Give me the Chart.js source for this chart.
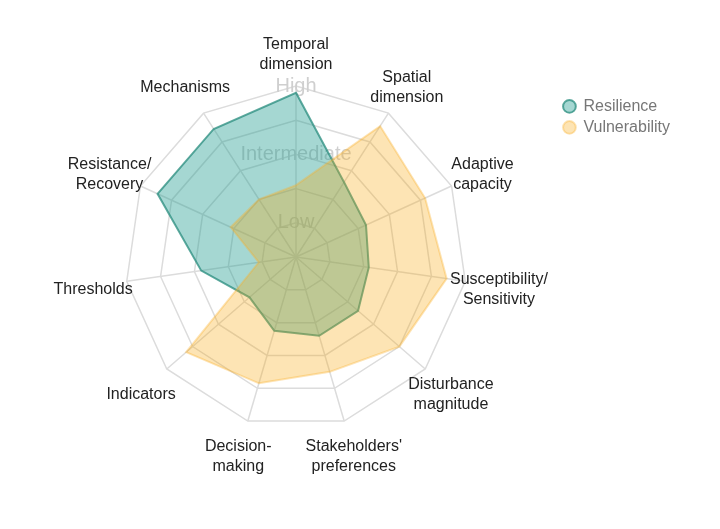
<!DOCTYPE html>
<html>
<head>
<meta charset="utf-8">
<script src="https://cdn.jsdelivr.net/npm/chart.js@4/dist/chart.umd.min.js"></script>
<style>
  html, body { margin: 0; padding: 0; background: #fff; }
  #wrap { width: 720px; height: 529px; }
</style>
</head>
<body>
<div id="wrap"><canvas id="radarChart"></canvas></div>
<script>
// axes, clockwise from the top
const categories = [
  ['Temporal', 'dimension'],
  ['Spatial', 'dimension'],
  ['Adaptive', 'capacity'],
  ['Susceptibility/', 'Sensitivity'],
  ['Disturbance', 'magnitude'],
  ["Stakeholders'", 'preferences'],
  ['Decision-', 'making'],
  'Indicators',
  'Thresholds',
  ['Resistance/', 'Recovery'],
  'Mechanisms'
];

const resilience    = [4.8, 2.6, 2.25, 2.15, 2.4, 2.4, 2.25, 1.8, 2.8, 4.45, 4.45];
const vulnerability = [2.1, 4.55, 4.15, 4.45, 4.0, 3.5, 3.85, 4.25, 1.1, 2.1, 2.0];

// ring ticks 0..5, only three named
const tickLabels = { 1: 'Low', 3: 'Intermediate', 5: 'High' };

const FONT = 'Liberation Sans, Arial, sans-serif';

// axis names centred a fixed distance beyond the outer ring
const centredPointLabels = {
  id: 'centredPointLabels',
  afterDraw(chart) {
    const scale = chart.scales.r;
    const c = chart.ctx;
    c.save();
    c.font = '16px ' + FONT;
    c.fillStyle = '#222';
    c.textAlign = 'center';
    c.textBaseline = 'middle';
    const lineH = 20;
    categories.forEach((lab, i) => {
      const lines = Array.isArray(lab) ? lab : [lab];
      const p = scale.getPointPosition(i, scale.drawingArea + 34);
      const y0 = p.y + 3 - (lines.length - 1) * lineH / 2;
      lines.forEach((t, j) => c.fillText(t, p.x, y0 + j * lineH));
    });
    c.restore();
  }
};

const ctx = document.getElementById('radarChart').getContext('2d');
const radarChart = new Chart(ctx, {
  type: 'radar',
  data: {
    labels: categories,
    datasets: [
      {
        label: 'Vulnerability',
        data: vulnerability,
        backgroundColor: 'rgba(248,165,5,0.3)',
        borderColor: 'rgba(248,175,40,0.35)',
        borderWidth: 2,
        pointRadius: 0
      },
      {
        label: 'Resilience',
        data: resilience,
        backgroundColor: 'rgba(30,155,142,0.4)',
        borderColor: 'rgba(40,140,125,0.75)',
        borderWidth: 2,
        pointRadius: 0
      }
    ]
  },
  options: {
    responsive: true,
    maintainAspectRatio: false,
    animation: false,
    layout: { padding: { top: 74, bottom: 89, left: 34, right: 40 } },
    plugins: {
      tooltip: { enabled: false },
      legend: {
        position: 'right',
        align: 'start',
        reverse: true,
        title: { display: true, text: '', padding: { top: 5 } },
        labels: {
          usePointStyle: true,
          pointStyle: 'circle',
          boxWidth: 12,
          boxHeight: 9,
          padding: 5,
          color: '#777',
          font: { family: FONT, size: 16 }
        }
      }
    },
    scales: {
      r: {
        min: 0,
        max: 5,
        ticks: {
          stepSize: 1,
          showLabelBackdrop: false,
          color: '#cfcfcf',
          font: { family: FONT, size: 20 },
          callback: (v) => tickLabels[v] || ''
        },
        grid: { color: '#dcdcdc', lineWidth: 1.5 },
        angleLines: { color: '#dcdcdc', lineWidth: 1.5 },
        pointLabels: { display: false }
      }
    }
  },
  plugins: [centredPointLabels]
});
</script>
</body>
</html>
